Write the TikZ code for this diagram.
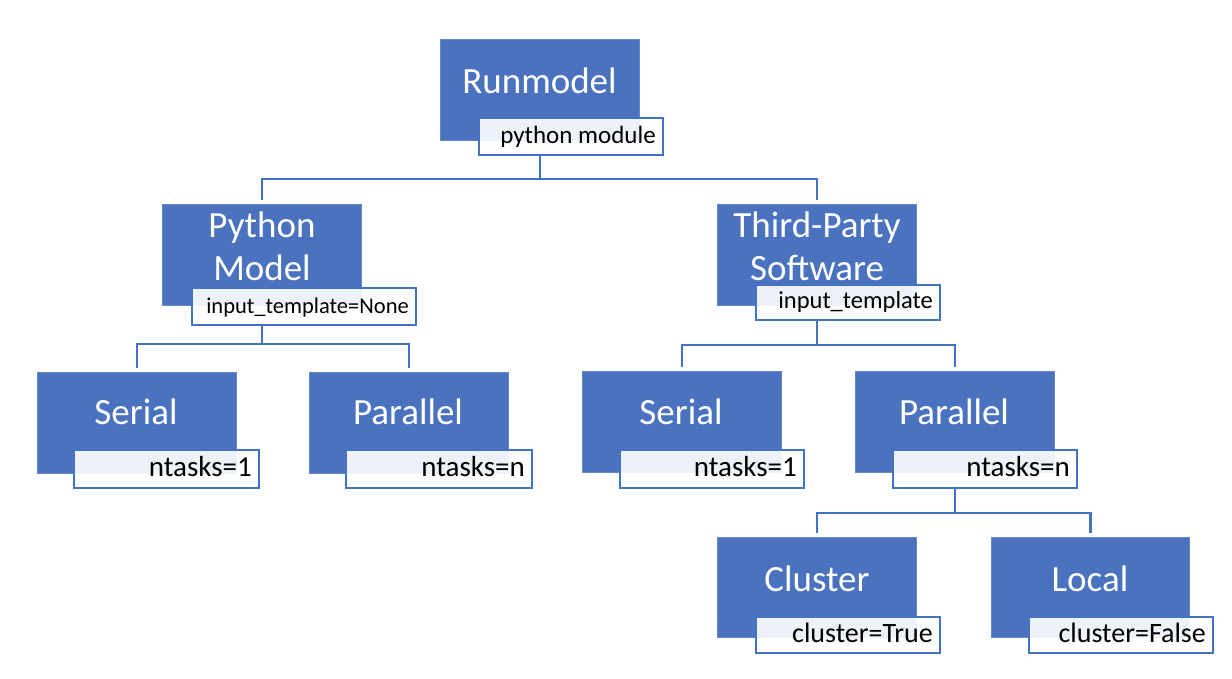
\documentclass[tikz,border=0pt]{standalone}
\usepackage{fontspec}
\setmainfont{Carlito}
\usetikzlibrary{positioning,calc}
\definecolor{boxblue}{HTML}{4A72BF}
\definecolor{lineblue}{HTML}{4472C4}
\tikzset{
  bluebox/.style={draw=boxblue!85!white, line width=0.8pt, fill=boxblue, anchor=north west, inner sep=0pt, minimum width=199pt, minimum height=101pt},
  maintext/.style={text=white, font=\fontsize{37}{43}\selectfont, align=center, anchor=base, inner sep=0pt},
  labelbox/.style={draw=lineblue, line width=2pt, fill=white, fill opacity=0.9, text opacity=1, anchor=north west, inner sep=0pt, minimum width=184pt, minimum height=37pt},
  labeltext/.style={font=\fontsize{#1}{#1}\selectfont, anchor=base east, inner sep=0pt, text=black},
  labeltext/.default=24,
  conn/.style={draw=lineblue, line width=2.5pt},
  childend/.style={shorten >=4pt}
}
\begin{document}
\begin{tikzpicture}[x=1pt,y=-1pt]
\useasboundingbox (0,0) rectangle (1232,678);
% Runmodel
\node[bluebox] (run) at (440,39) {};
\node[maintext] (runT) at (539.5,93) {Runmodel};
\node[labelbox] (runL) at (478,117) {};
\node[labeltext=25] (runLT) at (656,143) {python module};
% Python Model
\node[bluebox] (py) at (162,204) {};
\node[maintext] (pyT) at (262,280) {Python\\Model};
\node[labelbox, minimum width=224pt] (pyL) at (191,287) {};
\node[labeltext=22.5] (pyLT) at (409,313) {input\_template=None};
% Third-Party Software
\node[bluebox] (tp) at (717,204) {};
\node[maintext] (tpT) at (817,280) {Third-Party\\Software};
\node[labelbox, minimum height=35pt] (tpL) at (755,284) {};
\node[labeltext=24.5] (tpLT) at (933,308) {input\_template};
% Serial left
\node[bluebox] (s1) at (37,372) {};
\node[maintext] (s1T) at (136,424) {Serial};
\node[labelbox, minimum width=185pt, minimum height=38pt] (s1L) at (73,449) {};
\node[labeltext=29] (s1LT) at (252,476) {ntasks=1};
% Parallel left
\node[bluebox] (p1) at (309,372) {};
\node[maintext] (p1T) at (408,424) {Parallel};
\node[labelbox, minimum width=186pt, minimum height=38pt] (p1L) at (345,449) {};
\node[labeltext=29] (p1LT) at (525,476) {ntasks=n};
% Serial right
\node[bluebox] (s2) at (582,371) {};
\node[maintext] (s2T) at (681,424) {Serial};
\node[labelbox, minimum width=184pt, minimum height=38pt] (s2L) at (619,449) {};
\node[labeltext=29] (s2LT) at (797,476) {ntasks=1};
% Parallel right
\node[bluebox] (p2) at (855,371) {};
\node[maintext] (p2T) at (954,424) {Parallel};
\node[labelbox, minimum width=184pt, minimum height=38pt] (p2L) at (892,449) {};
\node[labeltext=29] (p2LT) at (1070,476) {ntasks=n};
% Cluster
\node[bluebox, minimum height=100pt] (cl) at (717,537) {};
\node[maintext] (clT) at (817,591) {Cluster};
\node[labelbox, minimum height=36pt] (clL) at (755,616) {};
\node[labeltext=28] (clLT) at (933,642) {cluster=True};
% Local
\node[bluebox, minimum width=198pt, minimum height=100pt] (lo) at (991,537) {};
\node[maintext] (loT) at (1090,591) {Local};
\node[labelbox, minimum height=36pt] (loL) at (1028,616) {};
\node[labeltext=28] (loLT) at (1206,642) {cluster=False};
% connectors
\draw[conn, childend] (run.south |- runL.south) -- ++(0,23) -| (py.north);
\draw[conn, childend] (run.south |- runL.south) -- ++(0,23) -| (tp.north);
\draw[conn, childend] (py.south |- pyL.south) -- ++(0,18) -| (s1.north);
\draw[conn, childend] (py.south |- pyL.south) -- ++(0,18) -| (p1.north);
\draw[conn, childend] (tp.south |- tpL.south) -- ++(0,24) -| (s2.north);
\draw[conn, childend] (tp.south |- tpL.south) -- ++(0,24) -| (p2.north);
\draw[conn, childend] (p2.south |- p2L.south) -- ++(0,24) -| (cl.north);
\draw[conn, childend] (p2.south |- p2L.south) -- ++(0,24) -| (lo.north);
\end{tikzpicture}
\end{document}
